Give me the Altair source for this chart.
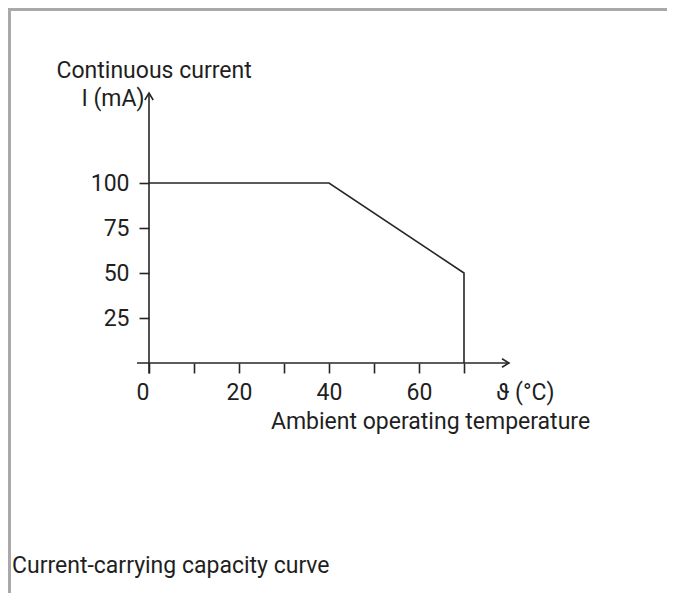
import altair as alt
import pandas as pd

# ---- data -------------------------------------------------------------
temp_c = [0, 40, 70, 70]          # ambient temperature (°C)
current_ma = [100, 100, 50, 0]    # continuous current (mA)
x_ticks = [0, 10, 20, 30, 40, 50, 60, 70]
y_ticks = [25, 50, 75, 100]
x_max = 80
y_max = 150

y_title = "Continuous current"
y_unit = "I (mA)"
x_title = "Ambient operating temperature"
x_unit = "ϑ (°C)"
caption = "Current-carrying capacity curve"

INK = "#1f1f1f"
LINE = "#262626"
BORDER = "#a9a9a9"
FONT = "Roboto"
FS = 23
SW = 1.6

xs = alt.Scale(domain=[0, x_max], nice=False, zero=False)
ys = alt.Scale(domain=[0, y_max], nice=False, zero=False)

x_axis = alt.Axis(
    values=x_ticks,
    labelExpr="(datum.value % 20 == 0 && datum.value < 70) ? datum.label : ''",
    domain=False, grid=False,
    ticks=True, tickSize=10, tickWidth=SW, tickColor=LINE,
    labelFont=FONT, labelFontSize=FS, labelColor=INK, labelPadding=8,
    labelAlign={"condition": {"test": "datum.value == 0", "value": "right"}, "value": "center"},
    title=x_title, titleFont=FONT, titleFontSize=FS, titleFontWeight="normal",
    titleColor=INK, titleX=281, titleY=65, titleAlign="center",
    titleBaseline="alphabetic", titleAnchor="start",
)
y_axis = alt.Axis(
    values=y_ticks,
    domain=False, grid=False,
    ticks=True, tickSize=10, tickWidth=SW, tickColor=LINE,
    labelFont=FONT, labelFontSize=FS, labelColor=INK, labelPadding=10,
    title=y_title, titleFont=FONT, titleFontSize=FS, titleFontWeight="normal",
    titleColor=INK, titleAngle=0, titleX=-93, titleY=-16, titleAlign="left",
    titleBaseline="alphabetic", titleAnchor="start",
)


def X(field="t:Q"):
    return alt.X(field, scale=xs, axis=x_axis)


def Y(field="i:Q"):
    return alt.Y(field, scale=ys, axis=y_axis)


curve_df = pd.DataFrame({"t": temp_c, "i": current_ma, "k": list(range(len(temp_c)))})

curve = alt.Chart(curve_df).mark_line(color=LINE, strokeWidth=SW, strokeJoin="miter").encode(
    x=X(), y=Y(), order="k:Q",
)

# axis lines (x axis starts a little left of the y axis; y axis runs a little below x axis)
axes_df = pd.DataFrame({
    "t": [-2.67, 0.0],
    "t2": [x_max, 0.0],
    "i": [0.0, -5.9],
    "i2": [0.0, y_max],
})
axis_lines = alt.Chart(axes_df).mark_rule(color=LINE, strokeWidth=SW).encode(
    x=X(), x2="t2:Q", y=Y(), y2="i2:Q",
)

right_arrow = alt.Chart(pd.DataFrame({"t": [x_max], "i": [0]})).mark_point(
    shape="M -1 -0.6 L 0 0 L -1 0.6", filled=False, size=196,
    color=LINE, strokeWidth=SW, opacity=1,
).encode(x=X(), y=Y())

up_arrow = alt.Chart(pd.DataFrame({"t": [0], "i": [y_max]})).mark_point(
    shape="M -0.6 1 L 0 0 L 0.6 1", filled=False, size=196,
    color=LINE, strokeWidth=SW, opacity=1,
).encode(x=X(), y=Y())

one = pd.DataFrame({"a": [0]})

unit_y = alt.Chart(one).mark_text(
    text=y_unit, font=FONT, fontSize=FS, color=INK, align="center", baseline="alphabetic"
).encode(x=alt.value(-36), y=alt.value(13))

unit_x = alt.Chart(one).mark_text(
    text=x_unit, font=FONT, fontSize=FS, color=INK, align="left", baseline="alphabetic"
).encode(x=alt.value(347), y=alt.value(307))

cap = alt.Chart(one).mark_text(
    text=caption, font=FONT, fontSize=FS, color=INK, align="left", baseline="alphabetic"
).encode(x=alt.value(-137), y=alt.value(480))

top_border = alt.Chart(one).mark_rule(color=BORDER, strokeWidth=3).encode(
    x=alt.value(-141), x2=alt.value(518), y=alt.value(-83.5)
)
left_border = alt.Chart(one).mark_rule(color=BORDER, strokeWidth=3).encode(
    x=alt.value(-139.5), y=alt.value(-85), y2=alt.value(500)
)

chart = alt.layer(
    top_border, left_border, axis_lines, curve, right_arrow, up_arrow, unit_y, unit_x, cap
).properties(
    width=360, height=270,
    autosize=alt.AutoSizeParams(type="none"),
    padding={"left": 141, "top": 85, "right": 158, "bottom": 230},
    background="white",
).configure_view(stroke=None)

chart.save("out.html", embed_options={"renderer": "svg", "actions": False})
